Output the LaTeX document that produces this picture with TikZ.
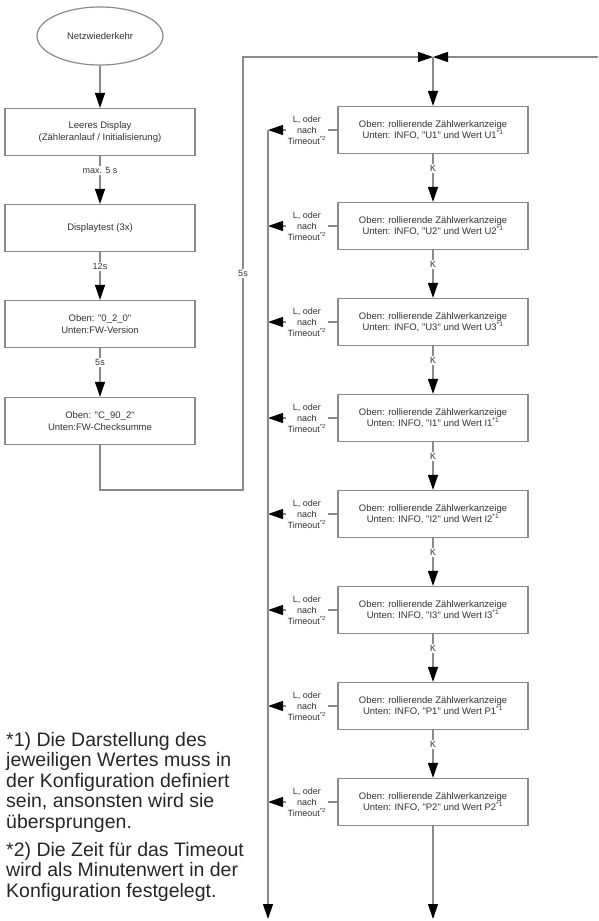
\documentclass[tikz,border=0pt]{standalone}
\usepackage{fontspec}
\setmainfont{Liberation Sans}[Ligatures=TeXOff]
\usetikzlibrary{arrows.meta,shapes.geometric}
\definecolor{linegray}{HTML}{8A8A8A}
\definecolor{textgray}{HTML}{333333}

\begin{document}
\begin{tikzpicture}[x=1pt,y=-1pt,
  box/.style={draw=linegray,line width=1.2pt,fill=white,minimum width=190pt,minimum height=47pt,
    align=center,text=textgray,font=\fontsize{9.5}{11.5}\selectfont},
  start/.style={box,ellipse,minimum width=126pt,minimum height=58pt},
  arr/.style={draw=linegray,line width=1.2pt,-{Triangle[length=15pt,width=10pt,color=black]}},
  lbl/.style={fill=white,inner sep=1.5pt,align=center,text=textgray,font=\fontsize{9}{11}\selectfont},
  note/.style={align=left,text=black!85,font=\fontsize{19.5}{20.5}\selectfont,inner sep=0pt}]
\useasboundingbox (0,0) rectangle (598,921);
% linke Spalte
\node[start] (netz) at (100,36) {Netzwiederkehr};
\node[box] (leer) at (100,132) {Leeres Display\\(Zähleranlauf / Initialisierung)};
\node[box] (dtest) at (100,228) {Displaytest (3x)};
\node[box] (fwver) at (100,324) {Oben: "0\_2\_0"\\Unten:FW-Version};
\node[box] (fwsum) at (100,421) {Oben: "C\_90\_2"\\Unten:FW-Checksumme};
\draw[arr] (netz) -- (leer);
\draw[arr] (leer) -- node[lbl,pos=0.3] {max. 5 s} (dtest);
\draw[arr] (dtest) -- node[lbl,pos=0.3] {12s} (fwver);
\draw[arr] (fwver) -- node[lbl,pos=0.3] {5s} (fwsum);
% Ruecksprung
\coordinate (merge) at (433,57);
\coordinate (rechts) at (598,57);
\coordinate (ecke) at (243,490);
\coordinate (oben) at (243,57);
\draw[arr] (fwsum.south) |- (ecke) -- node[lbl] {5s} (oben) -- (merge);
\draw[arr] (rechts) -- (merge);
% rechte Spalte
\foreach \v [count=\i] in {U1,U2,U3,I1,I2,I3,P1,P2} {
  \node[box] (z\i) at (433,{130+96*(\i-1)})
    {Oben: rollierende Zählwerkanzeige\\Unten: INFO, "\v" und Wert \v\textsuperscript{*1}};
  \coordinate (t\i) at (268,{130+96*(\i-1)});
  \draw[arr] (z\i.west) -- node[lbl,pos=0.44] {L, oder\\nach\\Timeout\textsuperscript{*2}} (t\i);
}
\draw[arr] (merge) -- (z1);
\foreach \i [evaluate=\i as \j using int(\i+1)] in {1,...,7}
  \draw[arr] (z\i) -- node[lbl,pos=0.3] {K} (z\j);
\coordinate (lende) at (268,919);
\coordinate (mende) at (433,919);
\draw[arr] (t1) -- (lende);
\draw[arr] (z8) -- (mende);
% Fussnoten
\node[note,anchor=north west] (fn) at (6,732)
  {*1) Die Darstellung des\\jeweiligen Wertes muss in\\der Konfiguration definiert\\sein, ansonsten wird sie\\übersprungen.\\[7.5pt]
   *2) Die Zeit für das Timeout\\wird als Minutenwert in der\\Konfiguration festgelegt.};
\end{tikzpicture}
\end{document}
